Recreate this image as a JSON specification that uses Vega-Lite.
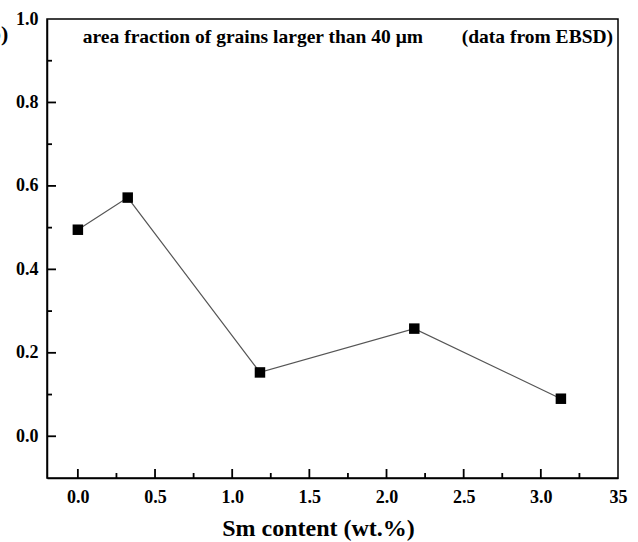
{
  "$schema": "https://vega.github.io/schema/vega-lite/v6.json",
  "width": 571,
  "height": 459,
  "autosize": {"type": "none"},
  "padding": {"left": 47, "top": 19, "right": 20, "bottom": 64},
  "background": "white",
  "config": {
    "view": {"stroke": "black", "strokeWidth": 1.5},
    "font": "Liberation Serif"
  },
  "layer": [
    {
      "data": {"values": [
        {"sm": 0.0, "fraction": 0.495},
        {"sm": 0.323, "fraction": 0.572},
        {"sm": 1.18, "fraction": 0.153},
        {"sm": 2.18, "fraction": 0.258},
        {"sm": 3.13, "fraction": 0.09}
      ]},
      "mark": {"type": "line", "color": "#555555", "strokeWidth": 1.2},
      "encoding": {
        "x": {
          "field": "sm", "type": "quantitative",
          "scale": {"domain": [-0.2, 3.5], "nice": false, "zero": false},
          "axis": {
            "values": [0, 0.5, 1, 1.5, 2, 2.5, 3, 3.5],
            "labelExpr": "datum.value == 3.5 ? '35' : format(datum.value, '.1f')",
            "title": "Sm content (wt.%)",
            "titleFont": "Liberation Serif", "titleFontSize": 24, "titleFontWeight": "bold", "titleColor": "black",
            "titlePadding": 10,
            "titleX": 271,
            "labelFont": "Liberation Serif", "labelFontSize": 18, "labelFontWeight": "bold", "labelColor": "black",
            "labelPadding": 10,
            "labelFlush": false,
            "labelOverlap": false,
            "grid": false,
            "ticks": false,
            "domainColor": "black", "domainWidth": 1.5
          }
        },
        "y": {
          "field": "fraction", "type": "quantitative",
          "scale": {"domain": [-0.1, 1.0], "nice": false, "zero": false},
          "axis": {
            "values": [0, 0.2, 0.4, 0.6, 0.8, 1.0],
            "format": ".1f",
            "title": null,
            "labelFont": "Liberation Serif", "labelFontSize": 18, "labelFontWeight": "bold", "labelColor": "black",
            "labelPadding": 9,
            "labelFlush": false,
            "labelOverlap": false,
            "grid": false,
            "ticks": false,
            "domainColor": "black", "domainWidth": 1.5
          }
        }
      }
    },
    {
      "data": {"values": [
        {"tick": 0}, {"tick": 0.5}, {"tick": 1}, {"tick": 1.5},
        {"tick": 2}, {"tick": 2.5}, {"tick": 3}
      ]},
      "mark": {"type": "rule", "color": "black", "strokeWidth": 1.8, "y2Offset": -9},
      "encoding": {
        "x": {"field": "tick", "type": "quantitative"},
        "y": {"datum": -0.1},
        "y2": {"datum": -0.1}
      }
    },
    {
      "data": {"values": [
        {"tick": 0.25}, {"tick": 0.75}, {"tick": 1.25}, {"tick": 1.75},
        {"tick": 2.25}, {"tick": 2.75}, {"tick": 3.25}
      ]},
      "mark": {"type": "rule", "color": "black", "strokeWidth": 1.8, "y2Offset": -5},
      "encoding": {
        "x": {"field": "tick", "type": "quantitative"},
        "y": {"datum": -0.1},
        "y2": {"datum": -0.1}
      }
    },
    {
      "data": {"values": [
        {"tick": 0, "start": -0.2, "end": -0.1417},
        {"tick": 0.2, "start": -0.2, "end": -0.1417},
        {"tick": 0.4, "start": -0.2, "end": -0.1417},
        {"tick": 0.6, "start": -0.2, "end": -0.1417},
        {"tick": 0.8, "start": -0.2, "end": -0.1417},
        {"tick": 0.1, "start": -0.2, "end": -0.1676},
        {"tick": 0.3, "start": -0.2, "end": -0.1676},
        {"tick": 0.5, "start": -0.2, "end": -0.1676},
        {"tick": 0.7, "start": -0.2, "end": -0.1676},
        {"tick": 0.9, "start": -0.2, "end": -0.1676}
      ]},
      "mark": {"type": "rule", "color": "black", "strokeWidth": 1.8},
      "encoding": {
        "y": {"field": "tick", "type": "quantitative"},
        "x": {"field": "start", "type": "quantitative"},
        "x2": {"field": "end"}
      }
    },
    {
      "data": {"values": [
        {"sm": 0.0, "fraction": 0.495},
        {"sm": 0.323, "fraction": 0.572},
        {"sm": 1.18, "fraction": 0.153},
        {"sm": 2.18, "fraction": 0.258},
        {"sm": 3.13, "fraction": 0.09}
      ]},
      "mark": {"type": "square", "size": 110, "color": "black", "filled": true, "opacity": 1},
      "encoding": {
        "x": {"field": "sm", "type": "quantitative"},
        "y": {"field": "fraction", "type": "quantitative"}
      }
    },
    {
      "data": {"values": [
        {"sm": 0.032, "fraction": 0.956, "label": "area fraction of grains larger than 40 μm"}
      ]},
      "mark": {"type": "text", "align": "left", "baseline": "middle", "font": "Liberation Serif", "fontSize": 19.5, "fontWeight": "bold", "color": "black"},
      "encoding": {
        "x": {"field": "sm", "type": "quantitative"},
        "y": {"field": "fraction", "type": "quantitative"},
        "text": {"field": "label"}
      }
    },
    {
      "data": {"values": [
        {"sm": 3.468, "fraction": 0.956, "label": "(data from EBSD)"}
      ]},
      "mark": {"type": "text", "align": "right", "baseline": "middle", "font": "Liberation Serif", "fontSize": 19.5, "fontWeight": "bold", "color": "black"},
      "encoding": {
        "x": {"field": "sm", "type": "quantitative"},
        "y": {"field": "fraction", "type": "quantitative"},
        "text": {"field": "label"}
      }
    },
    {
      "data": {"values": [
        {"sm": -0.45, "fraction": 0.963, "label": "(b)"}
      ]},
      "mark": {"type": "text", "align": "right", "baseline": "middle", "font": "Liberation Serif", "fontSize": 22, "fontWeight": "bold", "color": "black"},
      "encoding": {
        "x": {"field": "sm", "type": "quantitative"},
        "y": {"field": "fraction", "type": "quantitative"},
        "text": {"field": "label"}
      }
    }
  ]
}
